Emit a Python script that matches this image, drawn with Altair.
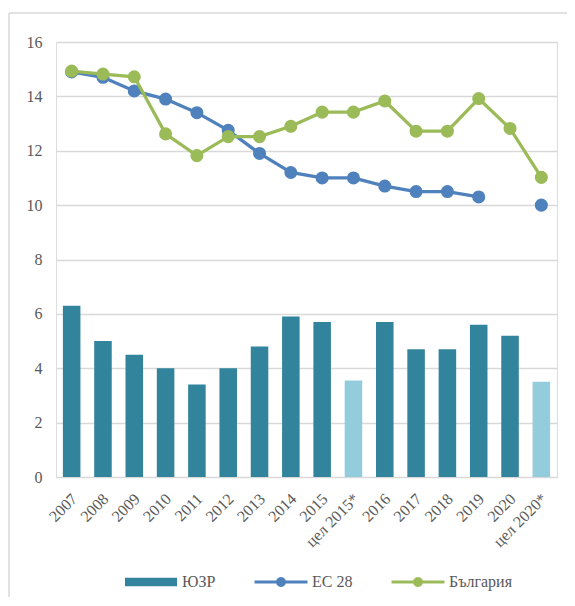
import math
import altair as alt
import pandas as pd

categories = ["2007", "2008", "2009", "2010", "2011", "2012", "2013", "2014", "2015",
              "цел 2015*", "2016", "2017", "2018", "2019", "2020", "цел 2020*"]
target_cats = ["цел 2015*", "цел 2020*"]
yuzr = [6.3, 5.0, 4.5, 4.0, 3.4, 4.0, 4.8, 5.9, 5.7, 3.55, 5.7, 4.7, 4.7, 5.6, 5.2, 3.5]
eu28 = [14.9, 14.7, 14.2, 13.9, 13.4, 12.75, 11.9, 11.2, 11.0, 11.0, 10.7, 10.5, 10.5, 10.3, None, 10.0]
bulgaria = [14.93, 14.82, 14.72, 12.62, 11.82, 12.52, 12.52, 12.9, 13.42, 13.42, 13.83, 12.72, 12.72, 13.92, 12.82, 11.02]
series_names = ["ЮЗР", "ЕС 28", "България"]
series_colors = ["#31849B", "#4F81BD", "#9BBB59"]
target_color = "#93CDDD"

# ---- tables ----
bars = pd.DataFrame({"cat": categories, "value": yuzr, "series": "ЮЗР"})
bars_main = bars[~bars["cat"].isin(target_cats)]
bars_target = bars[bars["cat"].isin(target_cats)]

rows = []
for name, vals in [("ЕС 28", eu28), ("България", bulgaria)]:
    seg = 0
    for c, v in zip(categories, vals):
        if v is None:
            seg += 1
            continue
        rows.append({"cat": c, "value": v, "series": name, "seg": f"{name}-{seg}"})
lines = pd.DataFrame(rows)

FONT = "Liberation Serif, 'Times New Roman', serif"
TXT = "#595959"
GRID = "#D9D9D9"

# legend symbol paths (unit coords scaled by sqrt(size)/2)
bar_path = "M-2.6,-0.42H2.6V0.42H-2.6Z"
circ = " ".join(
    ("M" if i == 0 else "L") + f"{0.5*math.cos(2*math.pi*i/24):.3f},{0.5*math.sin(2*math.pi*i/24):.3f}"
    for i in range(24)
) + "Z"
line_path = "M-2.65,-0.15H2.65V0.15H-2.65Z " + circ

legend = alt.Legend(
    title=None, orient="none", direction="horizontal",
    legendX=85, legendY=530, padding=0,
    labelFont=FONT, labelFontSize=16, labelColor=TXT,
    symbolSize=400, labelOffset=21, columnPadding=38,
    symbolType={"expr": f"datum.value === 'ЮЗР' ? '{bar_path}' : '{line_path}'"},
    symbolFillColor={"expr": "scale('color', datum.value)"},
    symbolStrokeWidth=0, symbolOpacity=1,
)

color = alt.Color("series:N", scale=alt.Scale(domain=series_names, range=series_colors), legend=legend)

x = alt.X("cat:N", sort=categories, title=None,
          scale=alt.Scale(paddingInner=0.44, paddingOuter=0.22),
          axis=alt.Axis(labelAngle=-45, labelAlign="right", labelBaseline="middle",
                        labelPadding=19, labelOffset=3, labelFont=FONT, labelFontSize=16,
                        labelColor=TXT, domain=False, ticks=False, grid=False))
y = alt.Y("value:Q", title=None,
          scale=alt.Scale(domain=[0, 16], nice=False),
          axis=alt.Axis(values=list(range(0, 17, 2)), labelFont=FONT, labelFontSize=16,
                        labelColor=TXT, labelPadding=14, domain=False, ticks=False,
                        gridColor=GRID, gridWidth=1.3))

bar_layer = alt.Chart(bars_main).mark_bar().encode(x=x, y=y, color=color)
target_layer = alt.Chart(bars_target).mark_bar(color=target_color).encode(x=x, y=y)
line_layer = alt.Chart(lines).mark_line(strokeWidth=3.3).encode(
    x=x, y=y, color=color, detail="seg:N")
point_layer = alt.Chart(lines).mark_point(filled=True, size=170, opacity=1).encode(
    x=x, y=y, color=color)

eu_lines = line_layer.transform_filter(alt.datum.series == "ЕС 28")
bg_lines = line_layer.transform_filter(alt.datum.series == "България")
eu_pts = point_layer.transform_filter(alt.datum.series == "ЕС 28")
bg_pts = point_layer.transform_filter(alt.datum.series == "България")

frame_df = pd.DataFrame({"k": [0]})
frame_left = alt.Chart(frame_df).mark_rule(color=GRID, strokeWidth=1.5).encode(
    x=alt.value(-47), y=alt.value(-29), y2=alt.value(560))
frame_top = alt.Chart(frame_df).mark_rule(color=GRID, strokeWidth=1.5).encode(
    x=alt.value(-47), x2=alt.value(515), y=alt.value(-29))

chart = alt.layer(
    frame_left, frame_top, bar_layer, target_layer, eu_lines, eu_pts, bg_lines, bg_pts
).properties(
    width=501, height=435,
    autosize=alt.AutoSizeParams(type="none"),
    padding={"left": 48, "top": 34, "right": 10, "bottom": 120},
).configure_view(stroke=None).configure(font=FONT)

chart.save("out.html", embed_options={"renderer": "svg", "actions": False})
